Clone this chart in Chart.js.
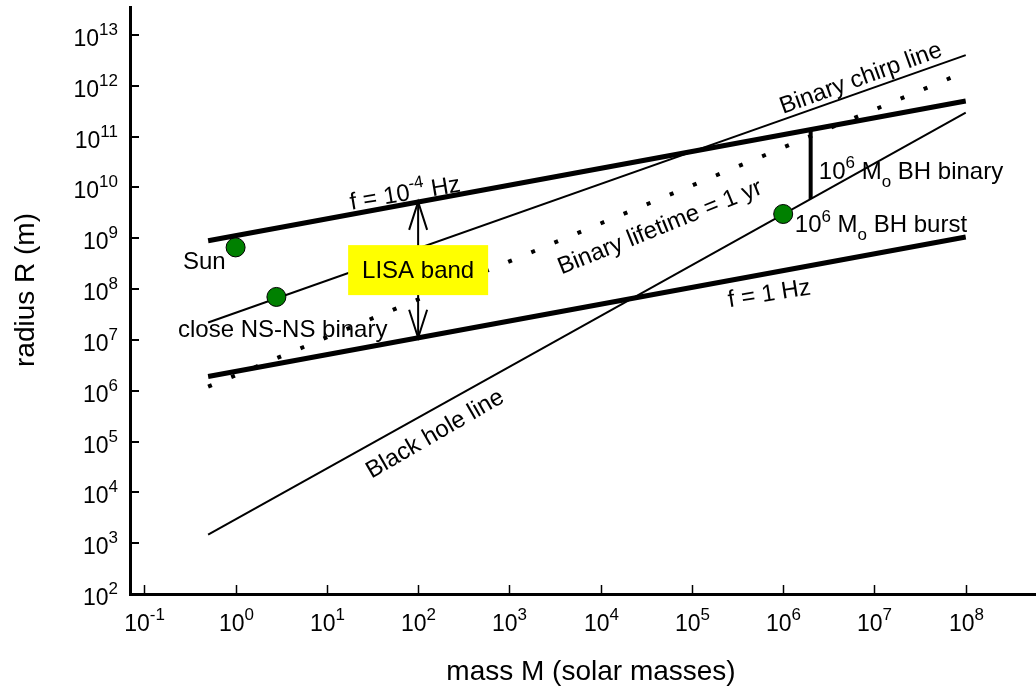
<!DOCTYPE html>
<html>
<head>
<meta charset="utf-8">
<script src="https://cdn.jsdelivr.net/npm/chart.js@4.4.1/dist/chart.umd.min.js"></script>
<style>
  body { margin: 0; background: #fff; }
  canvas { display: block; }
</style>
</head>
<body>
<canvas id="chart" width="1036" height="689"></canvas>
<script>
// values (mass in solar masses, radius in metres)
const massRange = [0.5, 1e8];
const radiusFLow = [8.9e8, 5.0e11];      // f = 1e-4 Hz
const radiusFHigh = [1.9e6, 1.06e9];     // f = 1 Hz
const radiusBlackHole = [1.47e3, 2.95e11];
const radiusChirp = [2.2e7, 4.0e12];
const radiusLifetime = [1.2e6, 1.9e12];  // binary lifetime = 1 yr
const bhBinaryMass = [2e6, 2e6];
const bhBinaryRadius = [1.4e11, 5.9e9];
const lisaArrowMass = [100, 100];
const lisaArrowRadius = [5.2e9, 1.1e7];
const objectNames = ['Sun', 'close NS-NS binary', '10^6 Mo BH burst'];
const objectMass = [1, 2.8, 1e6];
const objectRadius = [6.6e8, 7.0e7, 3.0e9];
const xTickPowers = [-1, 0, 1, 2, 3, 4, 5, 6, 7, 8];
const yTickPowers = [2, 3, 4, 5, 6, 7, 8, 9, 10, 11, 12, 13];

const FONT = "'Liberation Sans', Arial, sans-serif";

function pairs(xs, ys){
    return xs.map((v, i) => ({x: v, y: ys[i]}));
}

function lineSet(xs, ys, width, dash){
    return {
        type: 'scatter',
        data: pairs(xs, ys),
        showLine: true,
        borderColor: '#000',
        borderWidth: width,
        borderDash: dash || [],
        borderCapStyle: 'butt',
        pointRadius: 0,
        fill: false
    };
}

// draws text made of parts like ['10'], ['6','sup'], ['o','sub']
function drawRich(ctx, parts, x, y, size, align, angle, vy, supScale, supRaise){
    ctx.save();
    ctx.translate(x, y);
    ctx.rotate((angle || 0) * Math.PI / 180);
    ctx.fillStyle = '#000';
    ctx.textBaseline = 'alphabetic';
    ctx.textAlign = 'left';
    const sc = supScale || 0.7;
    const fonts = parts.map(p => (p[1] ? Math.round(size * sc) : size) + 'px ' + FONT);
    const widths = parts.map((p, i) => { ctx.font = fonts[i]; return ctx.measureText(p[0]).width; });
    const total = widths.reduce((a, b) => a + b, 0);
    let cx = align === 'center' ? -total / 2 : align === 'right' ? -total : 0;
    parts.forEach((p, i) => {
        ctx.font = fonts[i];
        let dy = vy || 0;
        if(p[1] === 'sup') dy -= size * (supRaise || 0.45);
        if(p[1] === 'sub') dy += size * 0.33;
        ctx.fillText(p[0], cx, dy);
        cx += widths[i];
    });
    ctx.restore();
}

const labels = [
    {parts: [['f = 10'], ['-4', 'sup'], [' Hz']], m: 71.6, r: 8.05e9, angle: -9.5, align: 'center', mid: true},
    {parts: [['f = 1 Hz']], m: 7.0e5, r: 8.6e7, angle: -9, align: 'center', mid: true},
    {parts: [['Binary chirp line']], m: 7.0e6, r: 1.5e12, angle: -20, align: 'center', mid: true},
    {parts: [['Binary lifetime = 1 yr']], m: 4.4e4, r: 1.75e9, angle: -22, align: 'center', mid: true},
    {parts: [['Black hole line']], m: 150, r: 1.5e5, angle: -30, align: 'center', mid: true},
    {parts: [[objectNames[0]]], m: 0.265, r: 2.5e8, align: 'left'},
    {parts: [[objectNames[1]]], m: 0.234, r: 1.13e7, align: 'left'},
    {parts: [['10'], ['6', 'sup'], [' M'], ['o', 'sub'], [' BH binary']], m: 2.46e6, r: 1.45e10, align: 'left'},
    {parts: [['10'], ['6', 'sup'], [' M'], ['o', 'sub'], [' BH burst']], m: 1.34e6, r: 1.3e9, align: 'left'}
];

const overlay = {
    id: 'overlay',
    afterDatasetsDraw(chart){
        const ctx = chart.ctx;
        const xs = chart.scales.x;
        const ys = chart.scales.y;
        const area = chart.chartArea;

        // inward ticks and tick labels
        ctx.save();
        ctx.strokeStyle = '#000';
        ctx.lineWidth = 1.5;
        xTickPowers.forEach(p => {
            const px = Math.round(xs.getPixelForValue(Math.pow(10, p))) + 0.5;
            ctx.beginPath();
            ctx.moveTo(px, area.bottom);
            ctx.lineTo(px, area.bottom - 9);
            ctx.stroke();
            drawRich(ctx, [['10'], [String(p), 'sup']], px, area.bottom + 37, 23, 'center', 0, 0, 0.72, 0.5);
        });
        ctx.lineWidth = 2;
        yTickPowers.forEach(p => {
            const py = Math.round(ys.getPixelForValue(Math.pow(10, p)));
            ctx.beginPath();
            ctx.moveTo(area.left, py);
            ctx.lineTo(area.left + 9, py);
            ctx.stroke();
            drawRich(ctx, [['10'], [String(p), 'sup']], area.left - 12, py + 11, 23, 'right', 0, 0, 0.72, 0.5);
        });
        ctx.restore();

        // axis titles
        drawRich(ctx, [['mass M (solar masses)']], 591, area.bottom + 86, 28, 'center');
        drawRich(ctx, [['radius R (m)']], 24, 290, 28, 'center', -90, 10);

        // arrow heads of the LISA band arrow
        const top = [xs.getPixelForValue(lisaArrowMass[0]), ys.getPixelForValue(lisaArrowRadius[0])];
        const bot = [xs.getPixelForValue(lisaArrowMass[1]), ys.getPixelForValue(lisaArrowRadius[1])];
        ctx.save();
        ctx.strokeStyle = '#000';
        ctx.lineWidth = 2;
        ctx.beginPath();
        ctx.moveTo(top[0] - 9, top[1] + 28);
        ctx.lineTo(top[0], top[1]);
        ctx.lineTo(top[0] + 9, top[1] + 28);
        ctx.moveTo(bot[0] - 9, bot[1] - 28);
        ctx.lineTo(bot[0], bot[1]);
        ctx.lineTo(bot[0] + 9, bot[1] - 28);
        ctx.stroke();
        ctx.restore();

        // LISA band box
        const bx = xs.getPixelForValue(100);
        const by = ys.getPixelForValue(2.36e8);
        ctx.save();
        ctx.fillStyle = '#ffff00';
        ctx.fillRect(bx - 70, by - 25, 140, 50);
        ctx.restore();
        drawRich(ctx, [['LISA band']], bx, by, 24, 'center', 0, 8);

        // text labels
        labels.forEach(l => {
            const px = xs.getPixelForValue(l.m);
            const py = ys.getPixelForValue(l.r);
            drawRich(ctx, l.parts, px, py, 24, l.align, l.angle || 0, l.mid ? 8.5 : 0);
        });
    }
};

new Chart(document.getElementById('chart'), {
    type: 'scatter',
    data: {
        datasets: [
            {
                type: 'scatter',
                data: pairs(objectMass, objectRadius),
                pointRadius: 9.5,
                pointBackgroundColor: '#008000',
                pointBorderColor: '#000',
                pointBorderWidth: 1,
                showLine: false
            },
            lineSet(bhBinaryMass, bhBinaryRadius, 4),
            lineSet(massRange, radiusFLow, 5),
            lineSet(massRange, radiusFHigh, 5),
            lineSet(massRange, radiusLifetime, 4, [4, 21]),
            lineSet(lisaArrowMass, lisaArrowRadius, 2),
            lineSet(massRange, radiusChirp, 2),
            lineSet(massRange, radiusBlackHole, 2)
        ]
    },
    options: {
        responsive: false,
        animation: false,
        devicePixelRatio: 1,
        layout: { autoPadding: false, padding: { left: 130, top: 7, right: 0, bottom: 95 } },
        plugins: {
            legend: { display: false },
            tooltip: { enabled: false }
        },
        scales: {
            x: {
                type: 'logarithmic',
                bounds: 'data',
                min: Math.pow(10, -1.157),
                max: Math.pow(10, 8.77),
                grid: { display: false, drawTicks: false },
                border: { display: true, color: '#000', width: 3 },
                ticks: { display: false },
                afterFit: s => { s.height = 0; }
            },
            y: {
                type: 'logarithmic',
                bounds: 'data',
                min: 100,
                max: Math.pow(10, 13.55),
                grid: { display: false, drawTicks: false },
                border: { display: true, color: '#000', width: 3 },
                ticks: { display: false },
                afterFit: s => { s.width = 0; }
            }
        }
    },
    plugins: [overlay]
});
</script>
</body>
</html>
